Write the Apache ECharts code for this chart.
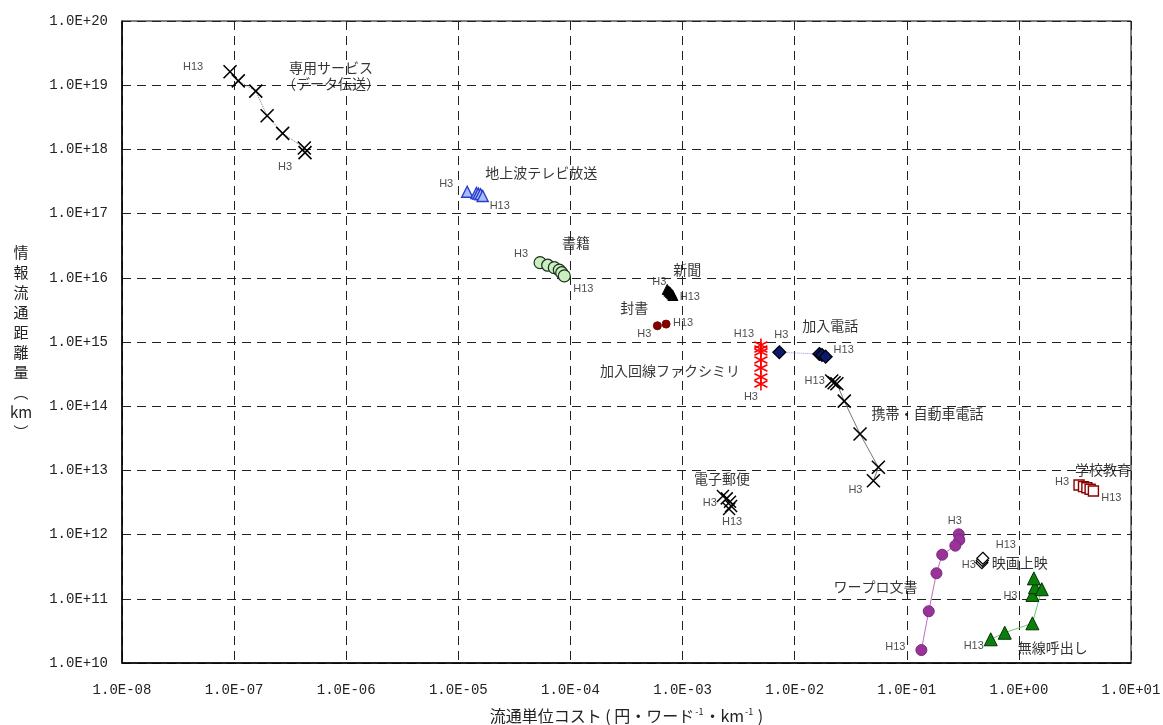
<!DOCTYPE html>
<html>
<head>
<meta charset="utf-8">
<script src="https://cdn.jsdelivr.net/npm/echarts@6/dist/echarts.min.js"></script>
<style>
  html, body { margin: 0; padding: 0; background: #fff; }
  #chart { width: 1163px; height: 725px; }
</style>
</head>
<body>
<div id="chart"></div>
<script>
// 流通単位コスト (円/ワード/km) と 情報流通距離量 (km) — 各メディア H3→H13
const senyoCost  = [4.29e-7, 4.23e-7, 2.71e-7, 1.97e-7, 1.56e-7, 1.09e-7, 9.2e-8];
const senyoDist  = [8.9e17, 1.05e18, 1.78e18, 3.35e18, 8.1e18, 1.17e19, 1.62e19];

const tvCost     = [1.20e-5, 1.45e-5, 1.51e-5, 1.58e-5, 1.65e-5];
const tvDist     = [2.19e17, 2.09e17, 2.05e17, 2.0e17, 1.88e17];

const bookCost   = [5.36e-5, 6.27e-5, 7.18e-5, 7.96e-5, 8.36e-5, 8.82e-5];
const bookDist   = [1.72e16, 1.57e16, 1.44e16, 1.32e16, 1.2e16, 1.07e16];

const paperCost  = [7.3e-4, 7.55e-4, 7.8e-4, 8.0e-4, 8.2e-4];
const paperDist  = [6.6e15, 6.2e15, 5.9e15, 5.6e15, 5.3e15];

const letterCost = [5.96e-4, 7.13e-4];
const letterDist = [1.79e15, 1.9e15];

const faxCost    = [5.0e-3, 5.0e-3, 5.0e-3, 5.0e-3, 5.0e-3, 5.0e-3, 5.0e-3];
const faxDist    = [2.22e14, 2.85e14, 3.94e14, 5.25e14, 7.0e14, 7.8e14, 8.98e14];

const telCost    = [7.3e-3, 1.66e-2, 1.75e-2, 1.89e-2];
const telDist    = [6.92e14, 6.5e14, 6.27e14, 5.9e14];

const mobileCost = [5.04e-2, 5.58e-2, 3.83e-2, 2.77e-2, 2.38e-2, 2.25e-2, 2.14e-2];
const mobileDist = [6.9e12, 1.12e13, 3.69e13, 1.2e14, 2.24e14, 2.32e14, 2.47e14];

const epostCost  = [2.29e-3, 2.48e-3, 2.65e-3, 2.71e-3, 2.6e-3];
const epostDist  = [3.99e12, 3.67e12, 3.25e12, 2.79e12, 2.5e12];

const schoolCost = [3.44, 3.77, 4.04, 4.32, 4.62];
const schoolDist = [5.93e12, 5.58e12, 5.38e12, 5.08e12, 4.78e12];

const wpCost     = [0.291, 0.294, 0.271, 0.207, 0.184, 0.157, 0.135];
const wpDist     = [1.01e12, 8.25e11, 6.72e11, 4.86e11, 2.5e11, 6.4e10, 1.59e10];

const movieCost  = [0.467, 0.472, 0.477];
const movieDist  = [3.65e11, 3.95e11, 4.28e11];

const pagerCost  = [1.32, 1.39, 1.36, 1.60, 1.32, 0.748, 0.561];
const pagerDist  = [1.15e11, 1.51e11, 2.08e11, 1.41e11, 4.15e10, 2.96e10, 2.34e10];

const xTickMin = 1e-8, xTickMax = 1e1;
const yTickMin = 1e10, yTickMax = 1e20;

const CROSS = 'path://M0,0L10,10M10,0L0,10';
const STAR = 'path://M5,0L5,10M0.7,2.5L9.3,7.5M0.7,7.5L9.3,2.5';

const fmtExp = v => {
  const e = Math.round(Math.log10(v));
  return '1.0E' + (e < 0 ? '-' : '+') + String(Math.abs(e)).padStart(2, '0');
};

// each entry: data, marker style, line style, and text anchored to points
const groups = [
  { name: '専用サービス', cost: senyoCost, dist: senyoDist,
    symbol: CROSS, size: 13, fill: 'transparent', stroke: '#000', bw: 1.6,
    line: { color: '#777', width: 1, type: 'dotted' },
    notes: [['first', 'H3', -20, 14], ['last', 'H13', -37, -5], ['last', '専用サービス\n（データ伝送）', 101, 4, true]] },
  { name: '地上波テレビ放送', cost: tvCost, dist: tvDist,
    symbol: 'triangle', size: 11, fill: '#a8bff5', stroke: '#2a3ad0', bw: 1.4, line: null,
    notes: [['first', 'H3', -21, -8], ['last', 'H13', 17, 10], ['first', '地上波テレビ放送', 74, -19, true]] },
  { name: '書籍', cost: bookCost, dist: bookDist,
    symbol: 'circle', size: 12, fill: '#c8f0c0', stroke: '#1e2e1e', bw: 1.2, line: null,
    notes: [['first', 'H3', -19, -9], ['last', 'H13', 19, 13], ['first', '書籍', 36, -20, true]] },
  { name: '新聞', cost: paperCost, dist: paperDist,
    symbol: 'triangle', size: 10, fill: '#000', stroke: '#000', bw: 1, line: null,
    notes: [['first', 'H3', -8, -7], ['last', 'H13', 17, 1], ['first', '新聞', 20, -20, true]] },
  { name: '封書', cost: letterCost, dist: letterDist,
    symbol: 'circle', size: 8, fill: '#800000', stroke: '#800000', bw: 1, line: null,
    notes: [['first', 'H3', -13, 8], ['last', 'H13', 17, -1], ['first', '封書', -23, -18, true]] },
  { name: '加入回線ファクシミリ', cost: faxCost, dist: faxDist,
    symbol: STAR, size: 13, fill: 'transparent', stroke: '#ff0000', bw: 1.6, line: null,
    notes: [['first', 'H3', -10, 13], ['last', 'H13', -17, -11], ['first', '加入回線ファクシミリ', -91, -13, true]] },
  { name: '加入電話', cost: telCost, dist: telDist,
    symbol: 'diamond', size: 13, fill: '#0a1a6e', stroke: '#000', bw: 1.2,
    line: { color: '#9a9ae0', width: 1, type: 'dotted' },
    notes: [['first', 'H3', 2, -17], ['last', 'H13', 18, -7], ['first', '加入電話', 51, -27, true]] },
  { name: '携帯・自動車電話', cost: mobileCost, dist: mobileDist,
    symbol: CROSS, size: 13, fill: 'transparent', stroke: '#000', bw: 1.6,
    line: { color: '#777', width: 1, type: 'solid' },
    notes: [['first', 'H3', -18, 9], ['last', 'H13', -17, 0], ['first', '携帯・自動車電話', 54, -67, true]] },
  { name: '電子郵便', cost: epostCost, dist: epostDist,
    symbol: CROSS, size: 12, fill: 'transparent', stroke: '#000', bw: 1.5, line: null,
    notes: [['first', 'H3', -13, 7], ['last', 'H13', 3, 13], ['first', '電子郵便', -1, -17, true]] },
  { name: '学校教育', cost: schoolCost, dist: schoolDist,
    symbol: 'rect', size: 10, fill: '#fff', stroke: '#8b0000', bw: 1.4, line: null,
    notes: [['first', 'H3', -17, -3], ['last', 'H13', 18, 7], ['first', '学校教育', 24, -15, true]] },
  { name: 'ワープロ文書', cost: wpCost, dist: wpDist,
    symbol: 'circle', size: 11, fill: '#993399', stroke: '#7a2a7a', bw: 1,
    line: { color: '#c06cc0', width: 1, type: 'solid' },
    notes: [['first', 'H3', -4, -13], ['last', 'H13', -26, -3], [4, 'ワープロ文書', -61, 13, true]] },
  { name: '映画上映', cost: movieCost, dist: movieDist,
    symbol: 'diamond', size: 12, fill: '#fff', stroke: '#000', bw: 1.2, line: null,
    notes: [['first', 'H3', -13, 2], ['last', 'H13', 23, -13], ['first', '映画上映', 38, 0, true]] },
  { name: '無線呼出し', cost: pagerCost, dist: pagerDist,
    symbol: 'triangle', size: 13, fill: '#0a800a', stroke: '#033003', bw: 1,
    line: { color: '#70c870', width: 1, type: 'solid' },
    notes: [['first', 'H3', -22, 1], ['last', 'H13', -17, 7], ['last', '無線呼出し', 62, 8, true]] }
];

const series = [];
const noteData = [];
groups.forEach(g => {
  const pts = g.cost.map((c, i) => [c, g.dist[i]]);
  series.push({
    name: g.name,
    type: 'line',
    data: pts,
    symbol: g.symbol,
    symbolSize: g.size,
    showSymbol: true,
    showAllSymbol: true,
    animation: false,
    itemStyle: { color: g.fill, borderColor: g.stroke, borderWidth: g.bw },
    lineStyle: g.line ? g.line : { width: 0, opacity: 0 },
    z: 3
  });
  g.notes.forEach(([at, text, dx, dy, big]) => {
    const i = at === 'first' ? 0 : at === 'last' ? pts.length - 1 : at;
    noteData.push({
      value: pts[i],
      label: {
        show: true,
        position: 'inside',
        formatter: text,
        offset: [dx, dy],
        fontFamily: big ? '"Noto Sans CJK JP", sans-serif' : '"Liberation Sans", Arial, sans-serif',
        fontSize: big ? 14 : 11,
        lineHeight: big ? 16 : 12,
        color: big ? '#000' : '#222'
      }
    });
  });
});

series.push({
  name: 'notes',
  type: 'scatter',
  data: noteData,
  symbolSize: 0,
  silent: true,
  animation: false,
  z: 5
});

const gridLine = { show: true, lineStyle: { color: '#222', width: 1, type: [9, 6] } };

const chart = echarts.init(document.getElementById('chart'), null, { renderer: 'canvas' });
chart.setOption({
  backgroundColor: '#fff',
  animation: false,
  grid: {
    left: 122, right: 32, top: 21, bottom: 62,
    outerBoundsMode: 'none', containLabel: false,
    show: true, borderColor: '#000', borderWidth: 1
  },
  xAxis: {
    type: 'log', logBase: 10, min: xTickMin, max: xTickMax, interval: 1,
    axisLine: { show: true, lineStyle: { color: '#000', width: 1.5 } },
    axisTick: { show: false },
    minorTick: { show: false },
    splitLine: gridLine,
    axisLabel: { formatter: fmtExp, fontFamily: '"Liberation Mono", monospace', fontSize: 14, color: '#222', margin: 20 },
    name: '流通単位コスト ( 円・ワード{s|-1}・km{s|-1} )',
    nameLocation: 'middle',
    nameGap: 44,
    nameTextStyle: {
      fontFamily: '"Noto Sans CJK JP", sans-serif', fontSize: 16, color: '#222',
      rich: { s: { fontSize: 9, verticalAlign: 'top', padding: [0, 1, 9, 1], fontFamily: '"Noto Sans CJK JP", sans-serif', color: '#222' } }
    }
  },
  yAxis: {
    type: 'log', logBase: 10, min: yTickMin, max: yTickMax, interval: 1,
    axisLine: { show: true, lineStyle: { color: '#000', width: 1.5 } },
    axisTick: { show: false },
    minorTick: { show: false },
    splitLine: gridLine,
    axisLabel: { formatter: fmtExp, fontFamily: '"Liberation Mono", monospace', fontSize: 14, color: '#222', margin: 14 },
    name: '情\n報\n流\n通\n距\n離\n量\n︵\nkm\n︶',
    nameLocation: 'middle',
    nameRotate: 0,
    nameGap: 101,
    nameTextStyle: { fontFamily: '"Noto Sans CJK JP", sans-serif', fontSize: 15, lineHeight: 20, color: '#222', align: 'center' }
  },
  series
});
</script>
</body>
</html>
